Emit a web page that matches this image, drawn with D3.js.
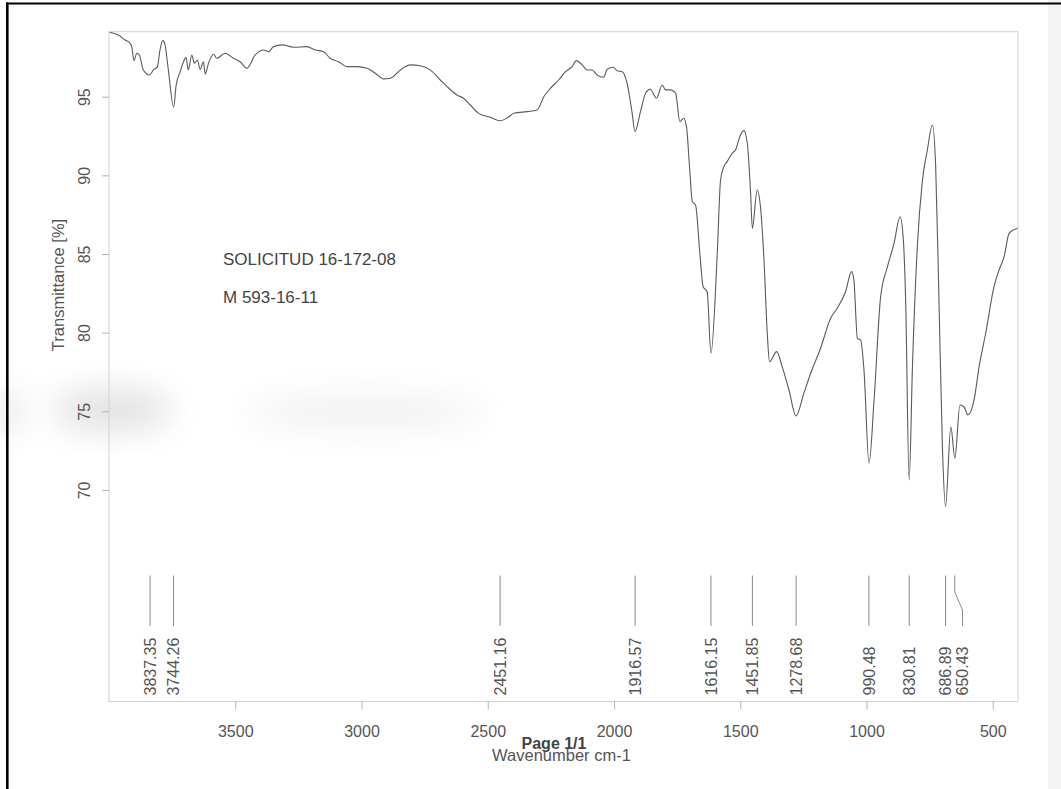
<!DOCTYPE html>
<html>
<head>
<meta charset="utf-8">
<script src="https://cdn.jsdelivr.net/npm/d3@7"></script>
<style>
  body { margin: 0; background: #fff; }
  svg { display: block; font-family: "Liberation Sans", Arial, sans-serif; }
</style>
</head>
<body>
<div id="chart"></div>
<script>
// spectrum (wavenumber cm-1 / transmittance %)
const wavenumber = [3998, 3963, 3936, 3919, 3910, 3901, 3890, 3880, 3864, 3840,
  3824, 3808, 3798, 3787, 3778, 3765, 3744, 3734, 3718, 3705,
  3695, 3686, 3672, 3662, 3650, 3639, 3626, 3619, 3606, 3586,
  3573, 3540, 3507, 3481, 3454, 3421, 3388, 3368, 3349, 3315,
  3269, 3216, 3183, 3150, 3124, 3091, 3058, 3018, 2978, 2945,
  2913, 2886, 2846, 2807, 2767, 2728, 2688, 2661, 2622, 2596,
  2569, 2536, 2490, 2451, 2424, 2397, 2344, 2305, 2278, 2252,
  2219, 2192, 2166, 2149, 2126, 2106, 2087, 2067, 2041, 2027,
  2003, 1988, 1968, 1948, 1928, 1917, 1895, 1875, 1856, 1832,
  1809, 1796, 1776, 1756, 1739, 1724, 1713, 1700, 1690, 1677,
  1660, 1647, 1631, 1616, 1591, 1578, 1565, 1552, 1532, 1519,
  1499, 1486, 1472, 1459, 1452, 1433, 1420, 1406, 1393, 1384,
  1356, 1334, 1307, 1279, 1248, 1221, 1182, 1142, 1116, 1083,
  1059, 1050, 1036, 1023, 1010, 990, 970, 944, 917, 891,
  867, 854, 845, 831, 818, 798, 779, 759, 739, 726,
  713, 699, 687, 666, 650, 630, 614, 598, 574, 554,
  528, 495, 475, 455, 435, 402];

const transmittance = [99.10, 98.92, 98.60, 98.43, 98.18, 97.29, 97.76, 97.65, 96.70, 96.38,
  96.70, 96.91, 97.97, 98.56, 98.29, 96.70, 94.33, 95.74, 96.59, 97.22,
  97.50, 96.70, 97.65, 97.12, 97.33, 96.74, 97.22, 96.44, 97.12, 97.70,
  97.44, 97.76, 97.44, 97.22, 96.81, 97.65, 97.97, 97.86, 98.18, 98.29,
  98.14, 98.18, 97.97, 97.86, 97.44, 97.22, 96.91, 96.91, 96.81, 96.49,
  96.13, 96.17, 96.70, 97.02, 96.97, 96.70, 96.06, 95.64, 95.11, 94.90,
  94.47, 93.94, 93.69, 93.47, 93.63, 93.94, 94.05, 94.15, 95.00, 95.53,
  96.06, 96.59, 96.91, 97.29, 97.02, 96.70, 96.70, 96.38, 96.23, 96.74,
  96.87, 96.65, 96.59, 95.85, 93.94, 92.78, 94.05, 95.22, 95.47, 94.90,
  95.74, 95.43, 95.43, 95.22, 93.41, 93.63, 93.09, 90.34, 88.33, 88.12,
  85.04, 82.92, 82.60, 78.69, 85.04, 89.70, 90.55, 90.87, 91.40, 91.61,
  92.57, 92.84, 92.04, 88.86, 86.63, 89.07, 88.01, 84.62, 79.96, 78.15,
  78.79, 77.84, 76.35, 74.70, 76.15, 77.42, 79.01, 80.91, 81.55, 82.60,
  83.88, 83.35, 79.64, 79.53, 77.63, 71.70, 75.72, 82.29, 84.19, 85.68,
  87.37, 85.89, 82.08, 70.63, 77.84, 85.68, 89.60, 91.61, 93.20, 90.55,
  82.08, 72.54, 68.94, 74.02, 72.01, 75.40, 75.29, 74.77, 75.72, 77.84,
  79.96, 82.92, 83.98, 84.83, 86.32, 86.63];

// peak picking table
const peakPositions = [3837.35, 3744.26, 2451.16, 1916.57, 1616.15, 1451.85, 1278.68, 990.48, 830.81, 686.89, 650.43];

const xTicks = [3500, 3000, 2500, 2000, 1500, 1000, 500];
const yTicks = [70, 75, 80, 85, 90, 95];

const sampleLines = ["SOLICITUD 16-172-08", "M 593-16-11"];

const W = 1061, H = 789;
const margin = { top: 31.7, right: 43, bottom: 87.5, left: 109 };
const width = W - margin.left - margin.right,
      height = H - margin.top - margin.bottom;

const svg = d3.select("#chart").append("svg")
    .attr("width", W)
    .attr("height", H);

// scanner smudges
const defs = svg.append("defs");
defs.append("filter").attr("id", "blur").attr("x", "-50%").attr("y", "-50%").attr("width", "200%").attr("height", "200%")
    .append("feGaussianBlur").attr("stdDeviation", 16);
const smudge = svg.append("g").attr("filter", "url(#blur)");
smudge.append("ellipse").attr("cx", 112).attr("cy", 410).attr("rx", 60).attr("ry", 22).attr("fill", "#e2e2e2");
smudge.append("ellipse").attr("cx", 5).attr("cy", 412).attr("rx", 16).attr("ry", 20).attr("fill", "#e4e4e4");
smudge.append("ellipse").attr("cx", 365).attr("cy", 412).attr("rx", 120).attr("ry", 16).attr("fill", "#f0f0f0");
svg.append("rect").attr("x", 1048).attr("y", 0).attr("width", 13).attr("height", H).attr("fill", "#f4f4f4");

// page frame (top and left edge of the scan)
svg.append("line").attr("x1", 6).attr("x2", W).attr("y1", 3.5).attr("y2", 3.5)
    .attr("stroke", "#000").attr("stroke-width", 2);
svg.append("line").attr("x1", 7.3).attr("x2", 7.3).attr("y1", 2.5).attr("y2", H)
    .attr("stroke", "#000").attr("stroke-width", 2.6);

const g = svg.append("g")
    .attr("transform", "translate(" + margin.left + "," + margin.top + ")");

const x = d3.scaleLinear().domain([4000, 400]).range([0, width]);
const y = d3.scaleLinear().domain([56.55, 99.13]).range([height, 0]);

// plot box
g.append("rect")
    .attr("width", width).attr("height", height)
    .attr("fill", "none").attr("stroke", "#d2d2d2").attr("stroke-width", 1);

// axes
const xAxis = d3.axisBottom(x).tickValues(xTicks).tickFormat(d3.format("d"))
    .tickSize(8).tickSizeOuter(0);
const gx = g.append("g").attr("transform", "translate(0," + height + ")").call(xAxis);
gx.select(".domain").remove();
gx.selectAll(".tick line").attr("stroke", "#b4b4b4");
gx.selectAll(".tick text")
    .attr("fill", "#555").attr("font-size", 16).attr("dy", null).attr("y", 35);

const yAxis = d3.axisLeft(y).tickValues(yTicks).tickSize(7).tickSizeOuter(0);
const gy = g.append("g").call(yAxis);
gy.select(".domain").remove();
gy.selectAll(".tick line").attr("stroke", "#b4b4b4");
gy.selectAll(".tick text")
    .attr("fill", "#555").attr("font-size", 16)
    .attr("x", null).attr("dy", null)
    .attr("text-anchor", "middle")
    .attr("transform", "translate(-19.5,0) rotate(-90)");

// axis titles
svg.append("text")
    .attr("transform", "translate(64,285) rotate(-90)")
    .attr("text-anchor", "middle")
    .attr("font-size", 16.5).attr("fill", "#555")
    .text("Transmittance [%]");

svg.append("text")
    .attr("x", margin.left + width / 2 - 2).attr("y", 761)
    .attr("text-anchor", "middle")
    .attr("font-size", 16.5).attr("fill", "#555")
    .text("Wavenumber cm-1");

svg.append("text")
    .attr("x", 554).attr("y", 749)
    .attr("text-anchor", "middle")
    .attr("font-size", 16).attr("font-weight", "bold").attr("fill", "#444")
    .text("Page 1/1");

// sample annotation
g.selectAll(".sample")
    .data(sampleLines)
    .enter().append("text")
    .attr("class", "sample")
    .attr("x", 223 - margin.left)
    .attr("y", (d, i) => 265 - margin.top + i * 38)
    .attr("font-size", 17).attr("fill", "#444")
    .text(d => d);

// spectrum
const spectrum = wavenumber.map((w, i) => ({ w: w, t: transmittance[i] }));
g.append("path")
    .datum(spectrum)
    .attr("fill", "none")
    .attr("stroke", "#5a5a5a")
    .attr("stroke-width", 1.1)
    .attr("d", d3.line()
        .x(d => x(d.w))
        .y(d => y(d.t))
        .curve(d3.curveMonotoneX));

// peak labels, pushed apart when they crowd
const minGap = 17;
let lastX = -Infinity;
const peaks = peakPositions.map(p => {
    let px = x(p);
    let lx = Math.max(px, lastX + minGap);
    lastX = lx;
    return { p: p, px: px, lx: lx };
});

const lineTop = 575.5 - margin.top, bendA = 592 - margin.top, bendB = 610 - margin.top, lineBot = 626 - margin.top;
const peakG = g.selectAll(".peak").data(peaks).enter().append("g").attr("class", "peak");
peakG.append("path")
    .attr("fill", "none").attr("stroke", "#8a8a8a").attr("stroke-width", 1)
    .attr("d", d => d.lx === d.px
        ? "M" + d.px + "," + lineTop + "V" + lineBot
        : "M" + d.px + "," + lineTop + "V" + bendA + "L" + d.lx + "," + bendB + "V" + lineBot);
peakG.append("text")
    .attr("transform", d => "translate(" + (d.lx + 5.8) + "," + (695.5 - margin.top) + ") rotate(-90)")
    .attr("font-size", 16).attr("fill", "#555")
    .text(d => d.p.toFixed(2));
</script>
</body>
</html>
